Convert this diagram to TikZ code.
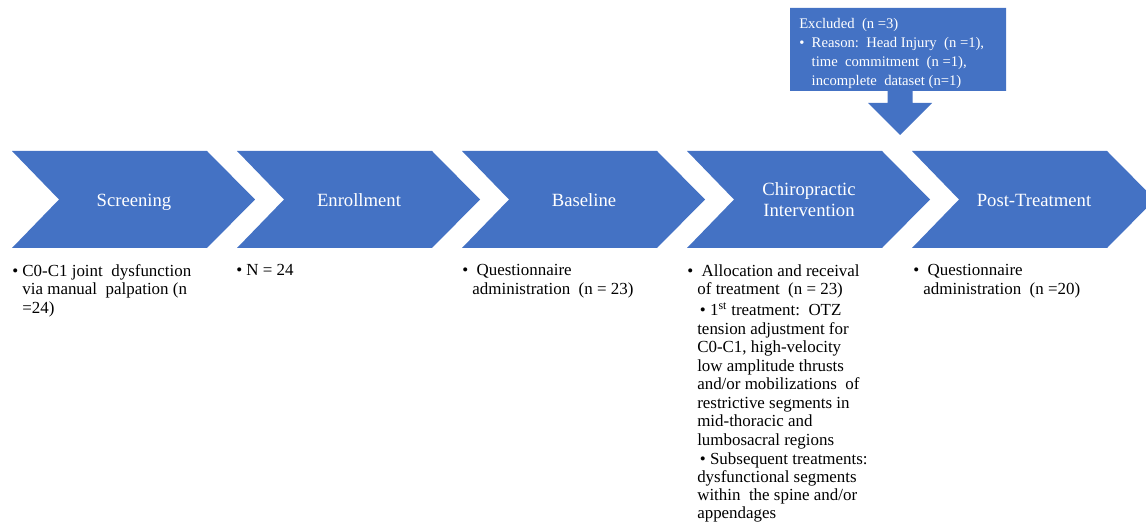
\documentclass[tikz,border=0pt]{standalone}
\usepackage{fontspec}
\setmainfont{Liberation Serif}
\usetikzlibrary{positioning}

\definecolor{phaseblue}{HTML}{4472C4}
\newcommand{\bulletgap}{\phantom{\textbullet\ }}

\tikzset{
    phase/.style={fill=phaseblue},
    phaselabel/.style={text=white, align=center, font=\fontsize{14}{16}\selectfont,
        execute at begin node=\strut, execute at end node=\strut},
    notes/.style={anchor=north west, inner sep=0pt, align=left, font=\fontsize{12.7}{13.9}\selectfont},
    exclnotes/.style={anchor=north west, inner sep=0pt, align=left, text=white, font=\fontsize{11}{14.2}\selectfont}
}

\begin{document}
\begin{tikzpicture}[x=0.75pt, y=-0.75pt]
        \useasboundingbox (0,0) rectangle (1146,523);
        \clip (0,0) rectangle (1146,523);

        % Chevrons
        \foreach \i/\lab in {0/{Screening}, 1/{Enrollment}, 2/{Baseline}, 3/{Chiropractic\\Intervention}, 4/{Post-Treatment}} {
            \pgfmathsetmacro{\xo}{12+225*\i}
            \fill[phase] (\xo,151) -- ++(195,0) -- ++(48,48.5) -- ++(-48,48.5) -- ++(-195,0) -- ++(47,-48.5) -- cycle;
            \node[phaselabel] (phase\i) at (\xo+122,202.5) {\lab};
        }

        % Excluded callout
        \fill[phase] (790,8) -- (1006,8) -- (1006,91) -- (912.5,91) -- (912.5,103) -- (932,103)
            -- (900,135) -- (868,103) -- (887.5,103) -- (887.5,91) -- (790,91) -- cycle;
        \node[exclnotes] (exclnote) at (799,18) {Excluded\ \ (n =3)\\
            \textbullet\ \ Reason:\ \ Head Injury\ \ (n =1),\\
            \bulletgap\ time\ \ commitment\ \ (n =1),\\
            \bulletgap\ incomplete\ \ dataset (n=1)};

        % Notes under each phase
        \node[notes] (scrnote) at (12,264) {\textbullet\ C0-C1 joint\ \ dysfunction\\
            \bulletgap via manual\ \ palpation (n\\
            \bulletgap =24)};
        \node[notes] (enrnote) at (236,264) {\textbullet\ N = 24};
        \node[notes] (basenote) at (462,264) {\textbullet\ \ Questionnaire\\
            \bulletgap administration\ \ (n = 23)};
        \node[notes] (intnote) at (687,264) {\textbullet\ \ Allocation and receival\\
            \bulletgap of treatment\ \ (n = 23)};
        \node[notes] (intfirst) at (697,303) {\hspace*{2pt}\textbullet\ 1\textsuperscript{st} treatment:\ \ OTZ\\
            tension adjustment for\\
            C0-C1, high-velocity\\
            low amplitude thrusts\\
            and/or mobilizations\ \ of\\
            restrictive segments in\\
            mid-thoracic and\\
            lumbosacral regions};
        \node[notes, font=\fontsize{12.7}{13.5}\selectfont] (intlater) at (697,452) {\hspace*{2pt}\textbullet\ Subsequent treatments:\\
            dysfunctional segments\\
            within\ \ the spine and/or\\
            appendages};
        \node[notes] (postnote) at (913,264) {\textbullet\ \ Questionnaire\\
            \bulletgap administration\ \ (n =20)};
    \end{tikzpicture}
\end{document}
